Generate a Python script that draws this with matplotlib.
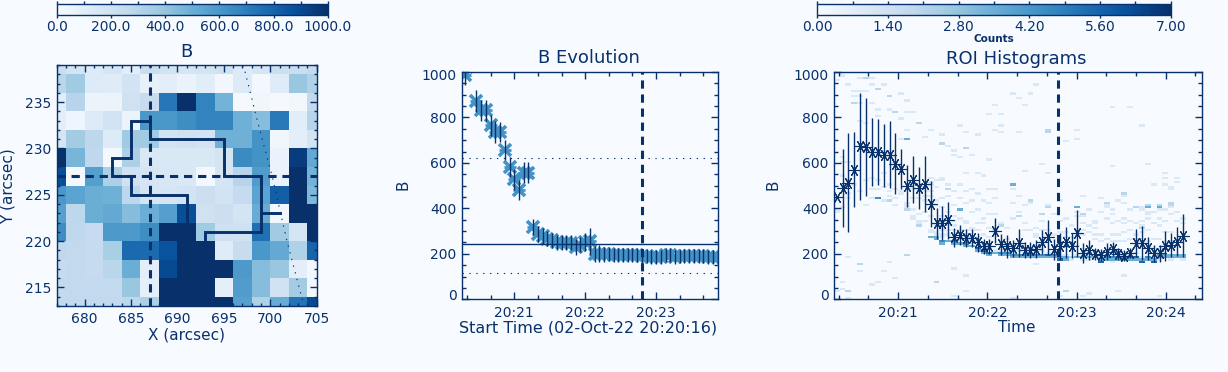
import numpy as np
import matplotlib
matplotlib.use("Agg")
from matplotlib import pyplot as plt
from matplotlib.cm import ScalarMappable
from matplotlib.colors import Normalize
from matplotlib.ticker import FixedLocator, FuncFormatter, MultipleLocator
from matplotlib.transforms import ScaledTranslation

W, H = 1228, 372
NAVY = "#08306b"
BG = "#f7fbff"
MID = "#4292c6"

# B map, rows top to bottom
map_x = [677, 679, 681, 683, 685, 687, 689, 691, 693, 695, 697, 699, 701, 703, 705]
map_y = [239, 237, 235, 233, 231, 229, 227, 225, 223, 221, 219, 217, 215, 213]
map_b = [
    [230, 180, 130, 170, 110, 230, 190, 170, 180, 200, 130, 170, 220, 230, 250],
    [290, 370, 130, 120, 190, 80, 100, 70, 110, 30, 130, 20, 120, 390, 320],
    [110, 300, 60, 60, 200, 240, 730, 1000, 680, 480, 15, 40, 15, 30, 260],
    [100, 50, 140, 190, 60, 600, 600, 640, 680, 680, 490, 430, 720, 110, 300],
    [170, 360, 280, 130, 370, 370, 190, 200, 190, 490, 490, 620, 40, 100, 180],
    [1000, 470, 270, 20, 330, 150, 150, 150, 150, 180, 650, 620, 70, 950, 520],
    [880, 20, 570, 330, 200, 170, 160, 150, 20, 170, 300, 580, 70, 1000, 480],
    [600, 550, 500, 490, 280, 170, 170, 190, 220, 190, 250, 550, 820, 1000, 450],
    [560, 280, 500, 520, 430, 500, 570, 880, 200, 220, 180, 510, 30, 1000, 1000],
    [640, 270, 250, 590, 590, 640, 1000, 1000, 370, 210, 200, 750, 370, 170, 1000],
    [270, 260, 250, 340, 780, 780, 870, 1000, 1000, 120, 240, 600, 520, 320, 800],
    [250, 260, 250, 290, 500, 100, 900, 1000, 1000, 1000, 590, 430, 390, 100, 30],
    [260, 260, 260, 260, 390, 90, 1000, 1000, 1000, 90, 580, 430, 200, 360, 30],
    [260, 260, 260, 260, 280, 330, 1000, 1000, 1000, 1000, 560, 320, 510, 740, 900],
]

roi_x = [701, 699, 699, 695, 695, 687, 687, 685, 685, 683, 683, 685, 685, 691, 691, 693, 693, 699, 699]
roi_y = [223, 223, 227, 227, 231, 231, 233, 233, 229, 229, 227, 227, 225, 225, 219, 219, 221, 221, 223]
limb_x = [697.1, 698.5, 700.2, 701.8, 703.5]
limb_y = [239, 233.4, 227, 220, 213.5]

cross_x = 687
cross_y = 227
cross_time = 167.8

# B evolution, seconds after 20:20:00
evo_t = [18, 23, 28, 32, 36, 40, 44, 48, 52, 56, 60, 64, 68, 72,
         76, 80, 84, 88, 92, 96, 100, 104, 108, 112, 116, 120, 124, 128, 132, 136,
         140, 144, 148, 152, 156, 160, 164, 168, 172, 176, 180, 184, 188, 192, 196,
         200, 204, 208, 212, 216, 220, 224, 228, 232]
evo_b = [988, 1040, 872, 831, 831, 765, 736, 736, 656, 582, 528, 480, 557, 557,
         318, 289, 277, 267, 260, 252, 249, 248, 248, 230, 241, 252, 256, 201, 201, 198,
         198, 194, 194, 194, 194, 194, 193, 191, 191, 188, 186, 188, 193, 194, 188,
         190, 191, 191, 191, 190, 190, 188, 188, 186]
evo_err = [45, 45, 47, 45, 45, 47, 47, 45, 45, 45, 45, 45, 45, 45,
           35, 35, 35, 33, 33, 33, 33, 33, 33, 35, 35, 40, 59, 35, 39, 33,
           31, 31, 31, 31, 31, 31, 31, 31, 31, 31, 31, 31, 31, 31, 31,
           31, 31, 31, 31, 31, 31, 31, 31, 31]
evo_solid = 245
evo_dotted = [623, 117]

# ROI means
roi_t = [18.6, 22.6, 26.5, 30.5, 34.4, 38.4, 42.3, 46.3, 50.2, 54.2,
         58.1, 62.1, 66.0, 70.0, 73.9, 77.9, 81.8, 85.8, 89.7, 93.7,
         97.6, 101.6, 105.5, 109.5, 113.4, 117.4, 121.3, 125.3, 129.2, 133.2,
         137.1, 141.1, 145.0, 149.0, 152.9, 156.9, 160.8, 164.8, 168.7, 172.7,
         176.6, 180.6, 184.5, 188.5, 192.4, 196.4, 200.3, 204.3, 208.2, 212.2,
         216.1, 220.1, 224.0, 228.0, 231.9, 235.9, 239.8, 243.8, 247.7, 251.7]
roi_b = [451, 488, 512, 571, 673, 669, 649, 647, 634, 637,
         597, 575, 499, 527, 490, 507, 419, 334, 337, 348,
         272, 283, 268, 268, 250, 234, 234, 302, 242, 234,
         224, 246, 217, 217, 220, 253, 272, 220, 234, 250,
         236, 290, 202, 217, 198, 195, 209, 220, 198, 192,
         202, 249, 249, 224, 202, 202, 234, 239, 253, 280]
roi_err = [0, 172, 218, 166, 234, 216, 150, 146, 139, 146,
           135, 88, 91, 102, 91, 122, 102, 68, 75, 82,
           40, 44, 40, 40, 40, 33, 33, 55, 45, 51,
           37, 62, 37, 37, 40, 54, 75, 47, 59, 68,
           55, 104, 44, 44, 27, 27, 37, 31, 27, 24,
           22, 62, 75, 51, 37, 37, 66, 51, 64, 94]

# histogram cells read as (column, B), grouped by counts
hist_levels = [1, 2, 3.5, 4.5, 5.5]
hist_1 = [(1, 980), (4, 970), (0, 965), (6, 975), (2, 940), (6, 945), (8, 940), (4, 915), (3, 915), (5, 915),
          (3, 895), (4, 890), (11, 900), (4, 865), (6, 865), (12, 870), (7, 835), (9, 835), (12, 825), (13, 825),
          (7, 800), (11, 790), (12, 745), (16, 745), (18, 720), (22, 735), (15, 715), (24, 720), (26, 810), (21, 760),
          (27, 745), (19, 670), (20, 650), (20, 635), (21, 625), (23, 630), (26, 610), (8, 555), (6, 530), (18, 530),
          (17, 525), (16, 530), (22, 555), (24, 550), (25, 540), (2, 445), (2, 460), (5, 415), (10, 415), (0, 380),
          (0, 390), (13, 350), (24, 330), (25, 330), (14, 345), (15, 430), (11, 470), (10, 440), (9, 450), (12, 410),
          (13, 440), (14, 480), (15, 470), (16, 470), (16, 500), (17, 430), (18, 400), (19, 380), (20, 345), (22, 330),
          (23, 310), (15, 380), (16, 360), (2, 185), (9, 160), (8, 120), (1, 78), (7, 75), (0, 35), (20, 135),
          (22, 105), (22, 35), (2, 5), (20, 10), (4, 120), (6, 60), (1, 40), (10, 90),
          (34, 940), (30, 900), (31, 880), (33, 900), (27, 855), (32, 855), (28, 815), (28, 760), (41, 745), (28, 735),
          (31, 735), (39, 690), (41, 705), (47, 840), (50, 840), (52, 760), (47, 580), (53, 595), (56, 555), (56, 535),
          (32, 565), (35, 595), (36, 555), (27, 480), (30, 480), (31, 450), (42, 450), (44, 345), (49, 420), (34, 155),
          (49, 100), (42, 10), (48, 35), (38, 10), (30, 5), (55, 15), (43, 25), (41, 235),
          (18, 275), (19, 280), (20, 270), (21, 265), (22, 260), (23, 250), (24, 240), (25, 235), (26, 225), (27, 215),
          (28, 215), (29, 215), (30, 205), (31, 210), (32, 205), (33, 205), (34, 205), (35, 210), (36, 205), (37, 205),
          (38, 190), (39, 195), (40, 175), (41, 190), (42, 170), (43, 170), (44, 195), (45, 180), (46, 195), (47, 165),
          (48, 170), (49, 195), (50, 195), (51, 200), (52, 180), (53, 170), (54, 180), (55, 170), (56, 195), (57, 170),
          (58, 195), (59, 170),
          (1, 620), (1, 600), (1, 540), (1, 500), (1, 400), (2, 600), (2, 520), (3, 500), (4, 470), (4, 780),
          (5, 520), (5, 770), (6, 480), (6, 440), (7, 520), (7, 480), (8, 490), (8, 430), (9, 470), (9, 500),
          (9, 640), (10, 480), (10, 600), (11, 460), (11, 700), (12, 420), (12, 400), (13, 500), (13, 480), (13, 395),
          (13, 360), (14, 470), (14, 440), (14, 370), (14, 335), (15, 490), (15, 450), (15, 340), (16, 510), (16, 450),
          (16, 400), (16, 300), (16, 290), (17, 490), (17, 410), (17, 320), (17, 290), (17, 280), (18, 520), (18, 440),
          (18, 360), (18, 300), (18, 285), (19, 500), (19, 450), (19, 330), (19, 300), (20, 470), (20, 410), (20, 360),
          (20, 320), (20, 300), (21, 500), (21, 440), (21, 350), (21, 300), (22, 470), (22, 420), (22, 340), (22, 300),
          (22, 285), (23, 480), (23, 430), (23, 380), (23, 300), (23, 270), (24, 460), (24, 390), (24, 300), (25, 430),
          (25, 350), (25, 280), (26, 480), (26, 420), (26, 370), (26, 310), (26, 270), (27, 440), (27, 370), (27, 290),
          (27, 300), (27, 310), (28, 330), (29, 265), (29, 310), (30, 350), (30, 420), (31, 385), (32, 300), (32, 330),
          (32, 410), (33, 420), (33, 300), (34, 310), (34, 280), (34, 270), (35, 340), (35, 305), (36, 415), (36, 300),
          (37, 370), (37, 280), (38, 430), (38, 340), (38, 290), (39, 350), (39, 290), (39, 270), (40, 325), (40, 275),
          (41, 380), (41, 360), (41, 300), (42, 360), (42, 330), (42, 300), (42, 280), (43, 395), (43, 320), (43, 290),
          (44, 330), (44, 310), (44, 280), (44, 260), (45, 440), (45, 385), (45, 280), (45, 250), (46, 400), (46, 410),
          (46, 350), (46, 260), (47, 395), (47, 375), (47, 330), (47, 285), (47, 255), (48, 430), (48, 340), (48, 280),
          (48, 250), (49, 455), (49, 350), (49, 330), (49, 290), (49, 250), (50, 390), (50, 340), (50, 300), (50, 260),
          (51, 330), (51, 280), (51, 260), (52, 400), (52, 395), (52, 340), (52, 320), (52, 290), (52, 250), (53, 385),
          (53, 370), (53, 350), (53, 300), (53, 255), (54, 500), (54, 380), (54, 330), (54, 260), (55, 405), (55, 390),
          (55, 350), (55, 320), (55, 260), (56, 500), (56, 395), (56, 345), (56, 290), (56, 250), (57, 490), (57, 480),
          (57, 400), (57, 370), (57, 290), (57, 250), (58, 530), (58, 510), (58, 380), (58, 340), (58, 265), (59, 350),
          (59, 330), (59, 270)]
hist_2 = [(5, 975), (7, 920), (9, 895), (3, 865), (10, 820), (14, 775), (18, 680), (22, 665), (19, 485), (9, 430),
          (12, 390), (14, 325), (12, 190), (4, 155), (17, 75), (2, 35), (36, 735), (36, 745), (33, 430), (36, 400),
          (31, 365), (35, 375), (28, 320), (42, 370), (46, 420), (49, 465), (51, 405), (52, 310), (39, 35), (57, 410),
          (40, 185), (53, 410), (55, 410), (57, 420)]
hist_3 = [(12, 700), (21, 390), (41, 405), (30, 500), (53, 400), (55, 400), (16, 275), (17, 275), (17, 265), (19, 255),
          (21, 245), (23, 235), (27, 205), (39, 180), (42, 180), (43, 180), (44, 180), (55, 180), (56, 180), (57, 180),
          (58, 180), (59, 180),
          (18, 245), (20, 240), (22, 235), (24, 210), (25, 205), (26, 195), (28, 190), (29, 190), (30, 180), (31, 180),
          (32, 180), (33, 180), (34, 180), (35, 185), (36, 180), (37, 180), (38, 185), (39, 170), (41, 180), (45, 175),
          (46, 170), (47, 170), (48, 170), (49, 170), (50, 170), (51, 175), (52, 175), (53, 170), (54, 175), (55, 190),
          (56, 190), (57, 190), (58, 190), (59, 190)]
hist_4 = [(7, 445), (18, 255), (20, 250), (22, 245), (24, 225), (28, 200), (29, 200), (30, 190), (31, 190), (32, 190),
          (33, 190), (34, 190), (35, 195), (37, 190), (46, 180), (47, 180), (48, 180), (49, 180), (50, 180), (53, 180)]
hist_5 = [(24, 220), (25, 215), (26, 205), (36, 190), (38, 175), (45, 165), (51, 185), (52, 165), (54, 165)]

cbar_b_ticks = [0, 200, 400, 600, 800, 1000]
cbar_n_ticks = [0, 1.4, 2.8, 4.2, 5.6, 7]

plt.rcParams["font.family"] = "DejaVu Sans"
plt.rcParams["text.color"] = NAVY
plt.rcParams["axes.edgecolor"] = NAVY
plt.rcParams["axes.linewidth"] = 1.0
plt.rcParams["xtick.color"] = NAVY
plt.rcParams["ytick.color"] = NAVY
plt.rcParams["xtick.labelsize"] = 10
plt.rcParams["ytick.labelsize"] = 10


def px_axes(fig, left, top, right, bottom):
    return fig.add_axes([left / W, 1 - bottom / H, (right - left) / W, (bottom - top) / H], facecolor=BG)


def px_text(fig, x, y, s, **kw):
    fig.text(x / W, 1 - y / H, s, ha="center", va="center", **kw)


def style_ticks(ax, major, minor):
    ax.tick_params(which="major", direction="in", top=True, right=True, length=major, width=1.0, pad=4)
    ax.tick_params(which="minor", direction="in", top=True, right=True, length=minor, width=1.0)


def time_label(value, pos):
    return "20:%02d" % (20 + int(round(value)) // 60)


def style_time(ax):
    ax.xaxis.set_major_locator(MultipleLocator(60))
    ax.xaxis.set_minor_locator(MultipleLocator(20))
    ax.xaxis.set_major_formatter(FuncFormatter(time_label))
    ax.set_ylim(0, 1000)
    ax.yaxis.set_major_locator(MultipleLocator(200))
    ax.yaxis.set_minor_locator(MultipleLocator(50))
    style_ticks(ax, 5, 3)
    ax.figure.canvas.draw()
    # the end labels sit inside the axis range in the original
    for tick in ax.yaxis.get_major_ticks():
        label = tick.label1
        if tick.get_loc() == 0:
            label.set_transform(label.get_transform() + ScaledTranslation(0, 4.6 / 100, ax.figure.dpi_scale_trans))
        elif tick.get_loc() == 1000:
            label.set_transform(label.get_transform() + ScaledTranslation(0, -3.0 / 100, ax.figure.dpi_scale_trans))


def dashed(ax, horizontal=False, at=0):
    style = (0, (2.7, 1.9))
    if horizontal:
        ax.axhline(at, color=NAVY, lw=2.2, ls=style, dash_capstyle="butt", zorder=5)
    else:
        ax.axvline(at, color=NAVY, lw=2.2, ls=style, dash_capstyle="butt", zorder=5)


def colorbar(fig, left, right, vmax, ticks, minor, fmt):
    cax = px_axes(fig, left, 3.5, right, 14.5)
    sm = ScalarMappable(norm=Normalize(0, vmax), cmap="Blues")
    cb = fig.colorbar(sm, cax=cax, orientation="horizontal")
    cb.set_ticks(ticks)
    cb.set_ticklabels([fmt % t for t in ticks])
    cax.xaxis.set_minor_locator(FixedLocator(minor))
    cax.tick_params(which="major", direction="out", top=True, bottom=True, length=2, width=1.0, pad=2)
    cax.tick_params(which="minor", direction="out", top=True, bottom=False, length=2, width=1.0)
    cb.outline.set_edgecolor(NAVY)
    cb.outline.set_linewidth(1.0)


def plot_map(fig):
    ax = px_axes(fig, 56.7, 65, 316.7, 306)
    ax.pcolormesh(map_x, map_y, np.array(map_b), cmap="Blues", vmin=0, vmax=1000, shading="nearest")
    ax.plot(limb_x, limb_y, color=NAVY, lw=0.8, ls=(0, (1.2, 5)))
    ax.plot(roi_x, roi_y, color=NAVY, lw=2.1, solid_joinstyle="miter")
    dashed(ax, at=cross_x)
    dashed(ax, horizontal=True, at=cross_y)
    ax.set_xlim(677, 705)
    ax.set_ylim(213, 239)
    ax.xaxis.set_major_locator(MultipleLocator(5))
    ax.xaxis.set_minor_locator(MultipleLocator(1))
    ax.yaxis.set_major_locator(MultipleLocator(5))
    ax.yaxis.set_minor_locator(MultipleLocator(1))
    style_ticks(ax, 5, 2.3)
    ax.tick_params(axis="x", pad=4)


def plot_evolution(fig):
    ax = px_axes(fig, 462.3, 72, 717.5, 299.3)
    ax.plot(evo_t, evo_b, ls="none", marker="x", ms=8.4, mew=2.6, color=MID, zorder=2)
    ax.plot(evo_t, evo_b, ls="none", marker="_", ms=8.6, mew=2.0, color=MID, zorder=2)
    ax.errorbar(evo_t, evo_b, yerr=evo_err, ls="none", ecolor=NAVY, elinewidth=1.0, capsize=0, zorder=3)
    ax.axhline(evo_solid, color=NAVY, lw=1.0, zorder=4)
    for level in evo_dotted:
        ax.axhline(level, color=NAVY, lw=0.8, ls=(0, (1.2, 5)), zorder=4)
    dashed(ax, at=cross_time)
    ax.set_xlim(16, 232)
    style_time(ax)
    ax.tick_params(axis="x", pad=5)


def plot_histogram(fig):
    ax = px_axes(fig, 834.3, 72, 1201.7, 299.3)
    counts = np.zeros((100, len(roi_t)))
    for n, cells in zip(hist_levels, [hist_1, hist_2, hist_3, hist_4, hist_5]):
        for col, val in cells:
            counts[val // 10, col] = n
    t = np.array(roi_t)
    t_edges = np.concatenate([t - 2, [t[-1] + 2]])
    ax.pcolormesh(t_edges, np.arange(0, 1010, 10), counts, cmap="Blues", vmin=0, vmax=7)
    ax.errorbar(roi_t, roi_b, yerr=roi_err, ls="none", marker=(6, 2, 90), ms=8.6, mew=0.8,
                color=NAVY, ecolor=NAVY, elinewidth=1.0, capsize=0, zorder=3)
    dashed(ax, at=cross_time)
    ax.set_xlim(17, 264.2)
    style_time(ax)
    ax.tick_params(axis="x", pad=5)


def main():
    fig = plt.figure(figsize=(W / 100, H / 100), dpi=100, facecolor=BG)

    colorbar(fig, 56.7, 327.7, 1000, cbar_b_ticks, list(range(100, 1000, 100)), "%.1f")
    colorbar(fig, 817.3, 1170.7, 7, cbar_n_ticks, [0.7, 2.1, 3.5, 4.9, 6.3], "%.2f")

    plot_map(fig)
    plot_evolution(fig)
    plot_histogram(fig)

    px_text(fig, 186, 52, "B", fontsize=13)
    px_text(fig, 589, 58, "B Evolution", fontsize=13)
    px_text(fig, 1016, 59, "ROI Histograms", fontsize=13)
    px_text(fig, 186, 335, "X (arcsec)", fontsize=11)
    px_text(fig, 588, 328, "Start Time (02-Oct-22 20:20:16)", fontsize=11.5)
    px_text(fig, 1017, 328, "Time", fontsize=11)
    px_text(fig, 993.7, 39, "Counts", fontsize=7.5, fontweight="bold")
    px_text(fig, 8, 186, "Y (arcsec)", fontsize=11, rotation=90)
    px_text(fig, 403, 185, "B", fontsize=11, rotation=90)
    px_text(fig, 773, 185, "B", fontsize=11, rotation=90)

    fig.savefig("out.png", dpi=100, facecolor=BG)


if __name__ == "__main__":
    main()
